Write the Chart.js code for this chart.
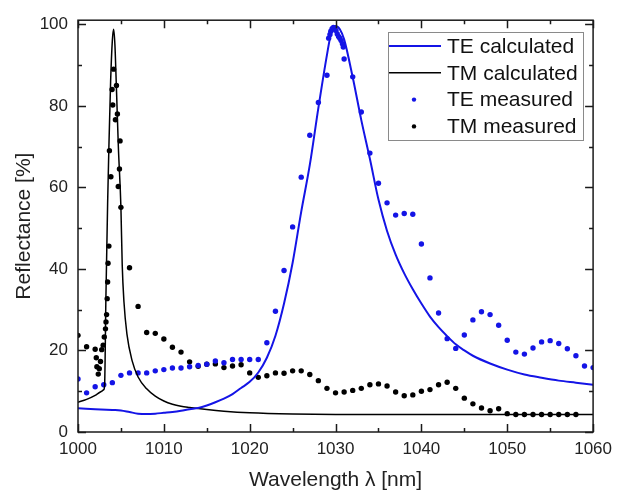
<!DOCTYPE html>
<html>
<head>
<meta charset="utf-8">
<script src="https://cdn.jsdelivr.net/npm/chart.js@4.4.1/dist/chart.umd.min.js"></script>
<style>
  html, body { margin: 0; padding: 0; background: #fff; }
  #grafico { display: block; }
</style>
</head>
<body>
<canvas id="grafico" width="619" height="493"></canvas>
<script>
// Refletância TE calculada
const teCalcX = [1000, 1002, 1004, 1005, 1006, 1007, 1008, 1009, 1010, 1011, 1012, 1013, 1014, 1015, 1016, 1017, 1018, 1019,
    1020, 1021, 1022, 1023, 1024, 1025, 1026, 1027, 1028, 1029, 1029.5, 1030, 1030.5, 1031, 1032, 1033, 1034, 1035, 1036,
    1037, 1038, 1039, 1040, 1041, 1042, 1043, 1044, 1045, 1046, 1048, 1050, 1052, 1054, 1056, 1058, 1060];
const teCalcY = [5.8, 5.6, 5.4, 5.3, 4.9, 4.5, 4.4, 4.5, 4.7, 4.9, 5.2, 5.6, 5.9, 6.5, 7.3, 8.2, 9.3, 10.8,
    12.3, 14.6, 18.2, 23.6, 31.5, 41.5, 54.0, 65.5, 79.5, 92.5, 98.0, 99.6, 98.8, 96.3, 87.0, 76.5, 67.0, 57.0, 49.3,
    43.5, 38.9, 35.0, 31.5, 28.3, 25.7, 23.5, 21.5, 20.0, 18.7, 16.8, 15.3, 14.1, 13.3, 12.6, 12.1, 11.6];

// Refletância TM calculada
const tmCalcX = [1000, 1001, 1002, 1002.6, 1003.0, 1003.1, 1003.25, 1003.45, 1003.6, 1003.8, 1004.0, 1004.15, 1004.3,
    1004.45, 1004.7, 1005.0, 1005.15, 1005.35, 1005.7, 1006.3, 1007, 1008, 1009, 1010, 1011, 1012, 1013, 1015, 1017,
    1020, 1025, 1030, 1040, 1050, 1060];
const tmCalcY = [7.3, 8.0, 9.0, 9.8, 10.4, 11.5, 33, 56, 70, 86, 96, 98.8, 95,
    86, 70, 55, 41, 32, 24, 17.5, 13.5, 10.6, 8.8, 7.6, 6.8, 6.3, 6.0, 5.5, 5.1,
    4.7, 4.4, 4.3, 4.3, 4.3, 4.3];

// Pontos medidos TE
const teMedX = [1000, 1001, 1002, 1003, 1004, 1005, 1006, 1007, 1008, 1009, 1010, 1011, 1012, 1013, 1014, 1015, 1016,
    1017, 1018, 1019, 1020, 1021, 1022, 1023, 1024, 1025, 1026, 1027, 1028, 1029,
    1029.2, 1029.35, 1029.45, 1029.6, 1029.75, 1029.9, 1030.05, 1030.2, 1030.35, 1030.5, 1030.65, 1030.8, 1030.9,
    1031, 1032, 1033, 1034, 1035, 1036, 1037, 1038, 1039, 1040, 1041, 1042, 1043, 1044, 1045, 1046, 1047, 1048,
    1049, 1050, 1051, 1052, 1053, 1054, 1055, 1056, 1057, 1058, 1059, 1060];
const teMedY = [13.0, 9.6, 11.1, 11.6, 12.1, 13.9, 14.5, 14.5, 14.5, 15.0, 15.3, 15.7, 15.7, 16.0, 16.3, 16.6, 17.4,
    17.0, 17.8, 17.8, 17.8, 17.8, 21.9, 29.6, 39.6, 50.3, 62.5, 72.8, 80.8, 87.5,
    96.6, 97.5, 98.3, 98.9, 99.2, 98.8, 98.5, 97.6, 97.0, 96.6, 96.0, 95.2, 94.4,
    91.5, 87.1, 78.5, 68.4, 61.0, 56.2, 53.2, 53.6, 53.4, 46.1, 37.8, 29.2, 22.9, 20.5, 23.8, 27.5, 29.5, 28.8,
    26.2, 22.5, 19.6, 19.1, 20.6, 22.1, 22.4, 21.7, 20.4, 18.7, 16.2, 15.8];

// Pontos medidos TM
const tmMedX = [1000, 1001, 1002.0, 1002.13, 1002.2, 1002.36, 1002.48, 1002.62, 1002.76, 1002.93, 1003.06, 1003.2,
    1003.26, 1003.33, 1003.4, 1003.45, 1003.5, 1003.6, 1003.66, 1003.83, 1003.97, 1004.05, 1004.15, 1004.36, 1004.48,
    1004.59, 1004.69, 1004.83, 1004.9, 1005.0, 1006, 1007, 1008, 1009, 1010, 1011, 1012, 1013, 1014, 1015, 1016,
    1017, 1018, 1019, 1020, 1021, 1022, 1023, 1024, 1025, 1026, 1027, 1028, 1029, 1030, 1031, 1032, 1033, 1034,
    1035, 1036, 1037, 1038, 1039, 1040, 1041, 1042, 1043, 1044, 1045, 1046, 1047, 1048, 1049, 1050, 1051, 1052,
    1053, 1054, 1055, 1056, 1057, 1058];
const tmMedY = [23.7, 20.9, 20.3, 18.2, 16.0, 14.2, 15.5, 17.3, 20.2, 21.3, 23.3, 25.3,
    27.0, 28.8, 32.7, 36.8, 41.4, 45.6, 69.0, 62.6, 84.0, 80.2, 89.0, 76.6, 85.0,
    78.0, 60.2, 64.5, 71.4, 55.1, 40.3, 30.8, 24.4, 24.2, 22.8, 20.8, 19.6, 17.2, 16.1, 16.6, 16.7,
    15.8, 16.2, 16.5, 14.5, 13.4, 13.8, 14.5, 14.4, 15.0, 15.0, 14.1, 12.6, 10.7, 9.6, 9.8, 10.2, 10.7, 11.6,
    11.8, 11.3, 9.8, 8.9, 9.1, 10.0, 10.4, 11.6, 12.2, 10.7, 8.3, 6.9, 5.9, 5.2, 5.7, 4.5, 4.3, 4.3,
    4.3, 4.3, 4.3, 4.3, 4.3, 4.3];

// Marcas dos eixos
const xTicks = [1000, 1010, 1020, 1030, 1040, 1050, 1060];
const yTicks = [0, 20, 40, 60, 80, 100];

const pontos = (xs, ys) => xs.map((x, i) => ({ x: x, y: ys[i] }));

const azul = '#1414e6';
const preto = '#000000';
const fonte = '"Liberation Sans", Arial, sans-serif';

// Moldura fechada com ticks para dentro (maiores nos rótulos, menores no meio)
const molduraPlugin = {
    id: 'moldura',
    afterDatasetsDraw(chart) {
        const { ctx, chartArea: a, scales } = chart;
        ctx.save();
        ctx.strokeStyle = '#1a1a1a';
        ctx.lineWidth = 1.5;
        ctx.strokeRect(a.left, a.top, a.right - a.left, a.bottom - a.top);
        ctx.beginPath();
        for (let v = xTicks[0]; v <= xTicks[xTicks.length - 1]; v += 5) {
            const px = Math.round(scales.x.getPixelForValue(v)) + 0.5;
            const len = xTicks.includes(v) ? 8 : 4;
            ctx.moveTo(px, a.bottom); ctx.lineTo(px, a.bottom - len);
            ctx.moveTo(px, a.top); ctx.lineTo(px, a.top + len);
        }
        for (let v = yTicks[0]; v <= yTicks[yTicks.length - 1]; v += 10) {
            const py = Math.round(scales.y.getPixelForValue(v)) + 0.5;
            const len = yTicks.includes(v) ? 8 : 4;
            ctx.moveTo(a.left, py); ctx.lineTo(a.left + len, py);
            ctx.moveTo(a.right, py); ctx.lineTo(a.right - len, py);
        }
        ctx.stroke();
        ctx.restore();
    }
};

// Legenda dentro da área do gráfico, com caixa
const legendaPlugin = {
    id: 'legendaCaixa',
    afterDraw(chart) {
        const ctx = chart.ctx;
        const x0 = 388, y0 = 32, w = 195, h = 108;
        ctx.save();
        ctx.fillStyle = '#ffffff';
        ctx.fillRect(x0, y0, w, h);
        ctx.strokeStyle = '#8a8a8a';
        ctx.lineWidth = 1;
        ctx.strokeRect(x0 + 0.5, y0 + 0.5, w, h);
        ctx.font = '21px ' + fonte;
        ctx.textBaseline = 'middle';
        chart.data.datasets.forEach((ds, i) => {
            const cy = 46 + i * 26.8;
            if (ds.showLine) {
                ctx.strokeStyle = ds.borderColor;
                ctx.lineWidth = ds.borderWidth;
                ctx.beginPath();
                ctx.moveTo(x0 + 1, cy);
                ctx.lineTo(x0 + 53, cy);
                ctx.stroke();
            } else {
                ctx.fillStyle = ds.backgroundColor;
                ctx.beginPath();
                ctx.arc(x0 + 26, cy, 2.2, 0, Math.PI * 2);
                ctx.fill();
            }
            ctx.fillStyle = '#111';
            ctx.fillText(ds.label, x0 + 59, cy + 1);
        });
        ctx.restore();
    }
};

const ctx = document.getElementById('grafico').getContext('2d');
new Chart(ctx, {
    type: 'scatter',
    data: {
        datasets: [{
            label: 'TE calculated',
            data: pontos(teCalcX, teCalcY),
            showLine: true,
            borderColor: azul,
            backgroundColor: azul,
            borderWidth: 2,
            pointRadius: 0,
            cubicInterpolationMode: 'monotone'
        }, {
            label: 'TM calculated',
            data: pontos(tmCalcX, tmCalcY),
            showLine: true,
            borderColor: preto,
            backgroundColor: preto,
            borderWidth: 1.5,
            pointRadius: 0,
            cubicInterpolationMode: 'monotone'
        }, {
            label: 'TE measured',
            data: pontos(teMedX, teMedY),
            showLine: false,
            backgroundColor: azul,
            borderWidth: 0,
            pointRadius: 2.7
        }, {
            label: 'TM measured',
            data: pontos(tmMedX, tmMedY),
            showLine: false,
            backgroundColor: preto,
            borderWidth: 0,
            pointRadius: 2.7
        }]
    },
    options: {
        responsive: false,
        animation: false,
        layout: { padding: { top: 16, right: 25, left: 0, bottom: 0 } },
        plugins: {
            legend: { display: false },
            tooltip: { enabled: false }
        },
        scales: {
            x: {
                type: 'linear',
                min: 1000,
                max: 1060,
                afterFit: s => { s.height = 61; },
                afterBuildTicks: s => { s.ticks = xTicks.map(v => ({ value: v })); },
                grid: { display: false, drawTicks: false },
                border: { display: false },
                ticks: {
                    padding: 7,
                    color: '#222',
                    font: { family: fonte, size: 17 },
                    maxRotation: 0,
                    callback: v => String(v)
                },
                title: {
                    display: true,
                    text: 'Wavelength λ [nm]',
                    color: '#222',
                    font: { family: fonte, size: 21 },
                    padding: { top: 0, bottom: 0 }
                }
            },
            y: {
                min: 0,
                max: 101,
                afterFit: s => { s.width = 78; },
                afterBuildTicks: s => { s.ticks = yTicks.map(v => ({ value: v })); },
                grid: { display: false, drawTicks: false },
                border: { display: false },
                ticks: {
                    padding: 10,
                    color: '#222',
                    font: { family: fonte, size: 17 },
                    callback: v => String(v)
                },
                title: {
                    display: true,
                    text: 'Reflectance [%]',
                    color: '#222',
                    font: { family: fonte, size: 21 },
                    padding: { top: 12, bottom: 0 }
                }
            }
        }
    },
    plugins: [molduraPlugin, legendaPlugin]
});
</script>
</body>
</html>
